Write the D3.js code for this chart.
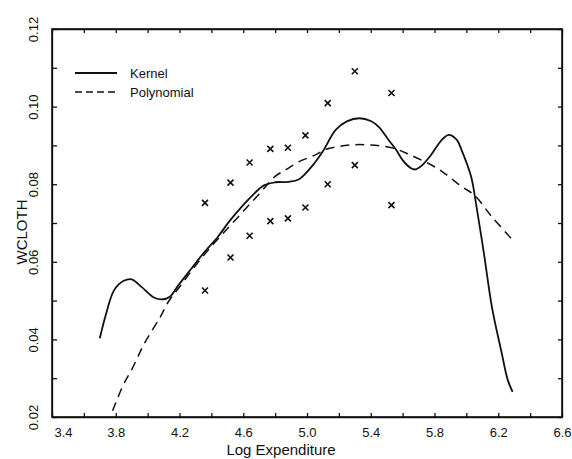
<!DOCTYPE html>
<html lang='en'>
<head>
  <meta charset='UTF-8'>
  <title>WCLOTH vs Log Expenditure</title>
  <style>
  body { margin: 0; background: white; }
  text { font-family: 'Liberation Sans', Arial, Helvetica, sans-serif; fill: #111; }
  .axis path, .axis line { stroke: #111; stroke-width: 1.3; }
  .axis text { font-size: 13px; }
  .frame { fill: none; stroke: #111; stroke-width: 1.6; }
  .kernel { fill: none; stroke: #111; stroke-width: 1.8; }
  .poly { fill: none; stroke: #111; stroke-width: 1.5; stroke-dasharray: 9,6; }
  .mark { stroke: #111; stroke-width: 1.6; fill: none; }
  .label { font-size: 15px; }
  .legend { font-size: 13px; }
  </style>
  <script src='https://d3js.org/d3.v7.min.js'></script>
</head>
<body>
  <script>

  // kernel regression curve
  var kernelX = [3.70, 3.74, 3.79, 3.85, 3.90, 3.96, 4.04, 4.09, 4.14, 4.19, 4.27, 4.35, 4.44, 4.52,
    4.65, 4.73, 4.80, 4.88, 4.95, 5.05, 5.10, 5.18, 5.25, 5.33, 5.40, 5.45, 5.51, 5.56, 5.60,
    5.65, 5.68, 5.72, 5.77, 5.85, 5.89, 5.94, 5.97, 6.03, 6.06, 6.11, 6.16, 6.22, 6.26, 6.29];
  var kernelY = [0.0403, 0.0467, 0.0527, 0.0551, 0.0555, 0.0536, 0.0508, 0.0503, 0.0510, 0.0538,
    0.0580, 0.0622, 0.0664, 0.0708, 0.0768, 0.0797, 0.0805, 0.0806, 0.0813, 0.0856, 0.0885,
    0.0940, 0.0962, 0.0970, 0.0963, 0.0948, 0.0915, 0.0888, 0.0862, 0.0842, 0.0838, 0.0848,
    0.0871, 0.0916, 0.0927, 0.0914, 0.0888, 0.0819, 0.0751, 0.0622, 0.0484, 0.0368, 0.0295, 0.0265];

  // polynomial fit
  var polyX = [3.78, 3.85, 3.90, 3.98, 4.08, 4.13, 4.20, 4.30, 4.40, 4.50, 4.60, 4.70, 4.80, 4.87,
    4.95, 5.05, 5.12, 5.27, 5.40, 5.54, 5.65, 5.80, 5.87, 5.97, 6.05, 6.16, 6.29];
  var polyY = [0.0216, 0.0285, 0.0322, 0.0390, 0.0458, 0.0497, 0.0535, 0.0590, 0.0640, 0.0685,
    0.0730, 0.0775, 0.0820, 0.0838, 0.0858, 0.0875, 0.0890, 0.0901, 0.0901, 0.0893, 0.0875,
    0.0845, 0.0826, 0.0794, 0.0772, 0.0716, 0.0656];

  // scatter: upper and lower points per expenditure group
  var groupX = [4.36, 4.52, 4.64, 4.77, 4.88, 4.99, 5.13, 5.30, 5.53];
  var upperY = [0.0752, 0.0804, 0.0856, 0.0891, 0.0894, 0.0926, 0.1009, 0.1091, 0.1035];
  var lowerY = [0.0526, 0.0611, 0.0667, 0.0705, 0.0712, 0.0740, 0.0800, 0.0849, 0.0746];

  var xTicks = d3.range(3.4, 6.61, 0.2).map(function (d) { return +d.toFixed(1); });
  var yTicks = d3.range(0.02, 0.1201, 0.01).map(function (d) { return +d.toFixed(2); });
  var xLabels = [3.4, 3.8, 4.2, 4.6, 5.0, 5.4, 5.8, 6.2, 6.6];
  var yLabels = [0.02, 0.04, 0.06, 0.08, 0.10, 0.12];

  var svgWidth = 572, svgHeight = 459;
  var margin = { top: 29, right: 10, bottom: 42, left: 52 };

  var svg = d3.select('body').append('svg')
    .attr('width', svgWidth).attr('height', svgHeight);

  var x = d3.scaleLinear().domain([3.4, 6.6]).range([margin.left, svgWidth - margin.right]);
  var y = d3.scaleLinear().domain([0.02, 0.12]).range([svgHeight - margin.bottom, margin.top]);

  // axes, ticks pointing inward

  var bottom = svg.append('g')
    .attr('class', 'axis')
    .attr('transform', 'translate(0,' + y(0.02) + ')')
    .call(d3.axisBottom(x).tickValues(xTicks).tickSizeInner(-4).tickSizeOuter(0).tickPadding(11)
      .tickFormat(function (d) { return xLabels.indexOf(d) >= 0 ? d.toFixed(1) : ''; }));
  bottom.selectAll('text').filter(function (d) { return d === 3.4; }).attr('dx', 11);

  svg.append('g')
    .attr('class', 'axis')
    .attr('transform', 'translate(0,' + y(0.12) + ')')
    .call(d3.axisTop(x).tickValues(xTicks).tickSizeInner(-4).tickSizeOuter(0).tickFormat(''));

  var left = svg.append('g')
    .attr('class', 'axis')
    .attr('transform', 'translate(' + x(3.4) + ',0)')
    .call(d3.axisLeft(y).tickValues(yTicks).tickSizeInner(-5).tickSizeOuter(0)
      .tickFormat(function (d) { return yLabels.indexOf(d) >= 0 ? d.toFixed(2) : ''; }));
  left.selectAll('text')
    .attr('x', null).attr('dy', null)
    .attr('text-anchor', 'middle')
    .attr('transform', 'translate(-14,0) rotate(-90)');

  svg.append('g')
    .attr('class', 'axis')
    .attr('transform', 'translate(' + x(6.6) + ',0)')
    .call(d3.axisRight(y).tickValues(yTicks).tickSizeInner(-4).tickSizeOuter(0).tickFormat(''));

  svg.append('rect')
    .attr('class', 'frame')
    .attr('x', x(3.4)).attr('y', y(0.12))
    .attr('width', x(6.6) - x(3.4)).attr('height', y(0.02) - y(0.12));

  // curves

  var line = d3.line()
    .x(function (d) { return x(d[0]); })
    .y(function (d) { return y(d[1]); })
    .curve(d3.curveCatmullRom);

  svg.append('path')
    .attr('class', 'kernel')
    .attr('d', line(d3.zip(kernelX, kernelY)));

  svg.append('path')
    .attr('class', 'poly')
    .attr('d', line(d3.zip(polyX, polyY)));

  // scatter crosses

  var pts = d3.zip(groupX, upperY).concat(d3.zip(groupX, lowerY));
  svg.selectAll('.mark')
    .data(pts)
    .enter()
    .append('path')
    .attr('class', 'mark')
    .attr('transform', function (d) { return 'translate(' + x(d[0]) + ',' + y(d[1]) + ')'; })
    .attr('d', 'M-3,-3L3,3M-3,3L3,-3');

  // legend

  var legend = svg.append('g').attr('transform', 'translate(75,73)');
  legend.append('line').attr('class', 'kernel').attr('x1', 0).attr('x2', 42).attr('y1', 0).attr('y2', 0);
  legend.append('text').attr('class', 'legend').attr('x', 55).attr('dy', '0.35em').text('Kernel');
  legend.append('line').attr('class', 'poly').attr('x1', 0).attr('x2', 42).attr('y1', 19).attr('y2', 19)
    .style('stroke-dasharray', '7,4');
  legend.append('text').attr('class', 'legend').attr('x', 55).attr('y', 19).attr('dy', '0.35em').text('Polynomial');

  // axis titles

  svg.append('text')
    .attr('class', 'label')
    .attr('text-anchor', 'middle')
    .attr('x', 281)
    .attr('y', 455)
    .text('Log Expenditure');

  svg.append('text')
    .attr('class', 'label')
    .attr('text-anchor', 'middle')
    .attr('transform', 'translate(27,232) rotate(-90)')
    .text('WCLOTH');
  </script>
</body>
</html>
